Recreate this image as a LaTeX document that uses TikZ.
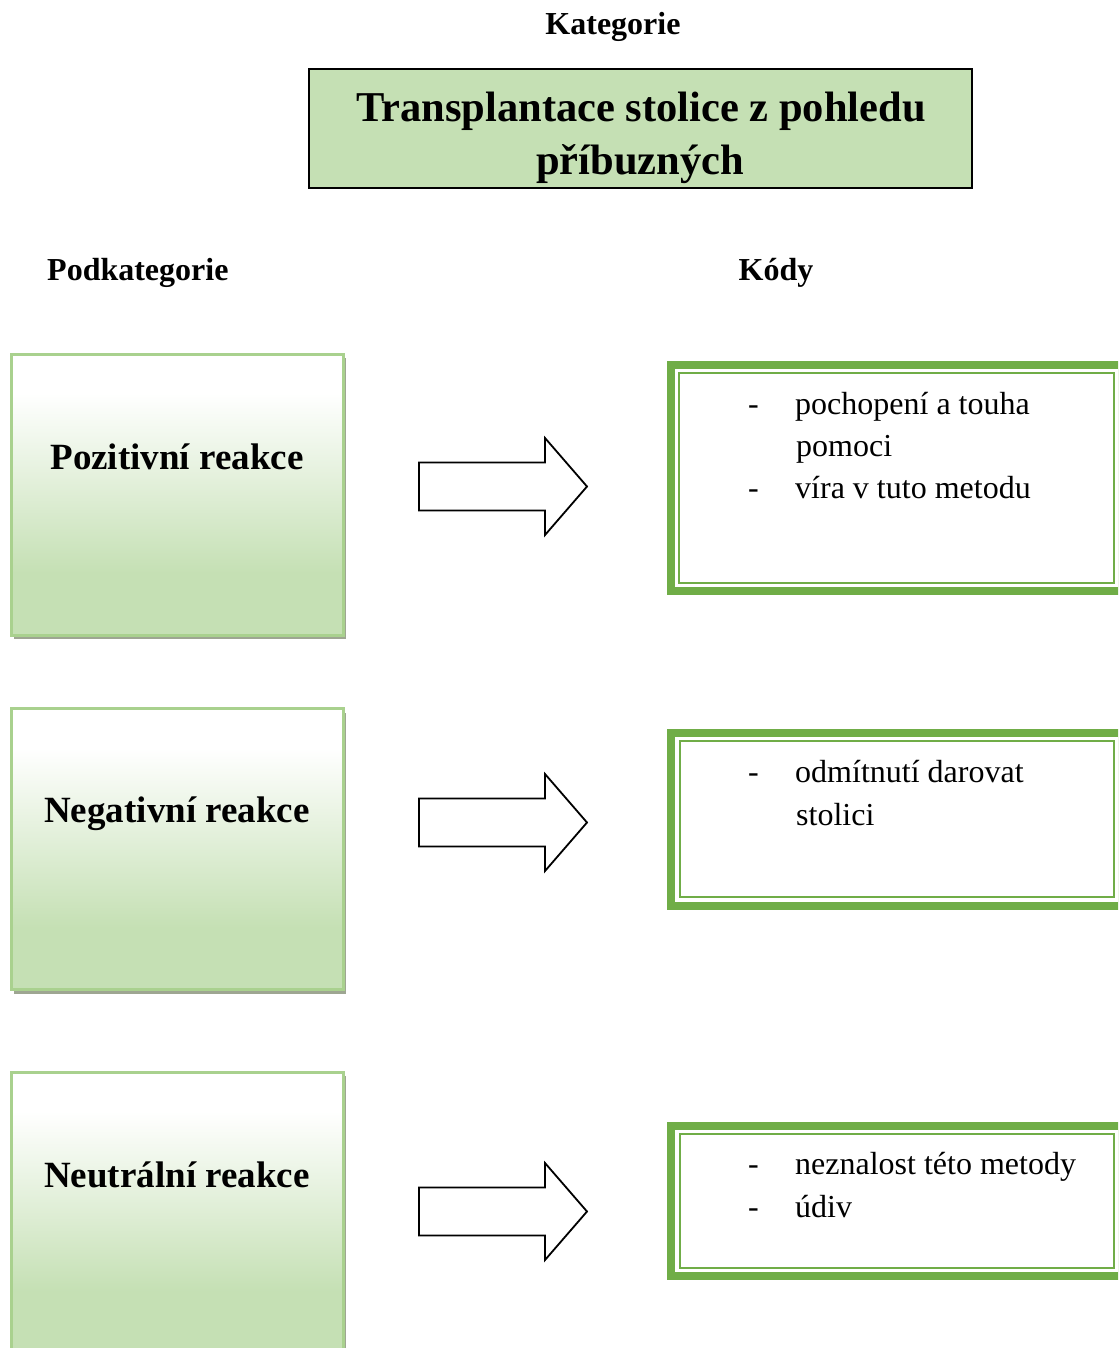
\documentclass[tikz,border=0pt]{standalone}
\usepackage{fontspec}
\setmainfont{Liberation Serif}
\usetikzlibrary{calc,shadows}
\definecolor{titlefill}{RGB}{197,224,180}
\definecolor{lightborder}{RGB}{169,209,142}
\definecolor{codegreen}{RGB}{112,173,71}
\definecolor{shadowc}{RGB}{158,166,146}
\pgfdeclareverticalshading{subshade}{100bp}{color(0bp)=(titlefill); color(36bp)=(titlefill); color(68bp)=(white); color(100bp)=(white)}
\tikzset{
  headtext/.style={font=\fontsize{32}{38}\selectfont\bfseries, inner sep=0, anchor=base},
  titlebox/.style={draw=black, line width=1.8pt, fill=titlefill, inner sep=0, outer sep=0},
  titletext/.style={font=\fontsize{42.5}{53}\selectfont\bfseries, inner sep=0, anchor=base},
  subbox/.style={draw=lightborder, line width=3pt, shading=subshade, inner sep=0, outer sep=0,
     minimum width=332pt, minimum height=281pt,
     drop shadow={shadow xshift=3pt, shadow yshift=-4pt, fill=shadowc, opacity=1}},
  subtext/.style={font=\fontsize{37}{44}\selectfont\bfseries, inner sep=0, anchor=base},
  codebox/.style={draw=codegreen, line width=8pt, fill=white, inner sep=0, outer sep=0, minimum width=451pt},
  innerline/.style={draw=codegreen, line width=2pt},
  codetext/.style={font=\fontsize{32}{40}\selectfont, inner sep=0, anchor=base west},
  blockarrow/.pic={
    \draw[line width=1.8pt, fill=white, line join=miter]
      (-84,-24) -- (42,-24) -- (42,-48.5) -- (84,0) -- (42,48.5) -- (42,24) -- (-84,24) -- cycle;
  }
}
\begin{document}
\begin{tikzpicture}[x=1pt,y=-1pt]
\useasboundingbox (0,0) rectangle (1118,1348);
\clip (0,0) rectangle (1118,1348);

% header
\node[headtext] (kat) at (613,35) {Kategorie};
\node[titlebox, minimum width=663pt, minimum height=119pt] (title) at (640.5,128.5) {};
\node[titletext] (t1) at (641,122) {Transplantace stolice z pohledu};
\node[titletext] (t2) at (640,175) {příbuzných};
\node[headtext, anchor=base west] (podk) at (47,280) {Podkategorie};
\node[headtext] (kody) at (776,280) {Kódy};

% subcategory boxes
\node[subbox] (s1) at (177,494.5) {};
\node[subtext] (s1t) at (177,469.5) {Pozitivní reakce};
\node[subbox] (s2) at (177,849) {};
\node[subtext] (s2t) at (177,822) {Negativní reakce};
\node[subbox] (s3) at (177,1212.5) {};
\node[subtext] (s3t) at (177,1187) {Neutrální reakce};

% arrows
\pic (a1) at (503,486.5) {blockarrow};
\pic (a2) at (503,822.5) {blockarrow};
\pic (a3) at (503,1211.5) {blockarrow};

% code boxes
\node[codebox, minimum height=226.5pt] (k1) at (896.5,477.75) {};
\draw[innerline] ($(k1.north west)+(8,8)$) rectangle ($(k1.south east)+(-8,-8)$);
\node[codetext] (k1d1) at (748,414) {-};
\node[codetext] (k1a) at (795,414) {pochopení a touha};
\node[codetext] (k1b) at (796,456) {pomoci};
\node[codetext] (k1d2) at (748,498) {-};
\node[codetext] (k1c) at (795,498) {víra v tuto metodu};

\node[codebox, minimum height=173pt] (k2) at (896.5,819) {};
\draw[innerline] ($(k2.north west)+(8.5,8.5)$) rectangle ($(k2.south east)+(-8.5,-8.5)$);
\node[codetext] (k2d1) at (748,782) {-};
\node[codetext] (k2a) at (795,782) {odmítnutí darovat};
\node[codetext] (k2b) at (796,825) {stolici};

\node[codebox, minimum height=150.5pt] (k3) at (896.5,1200.75) {};
\draw[innerline] ($(k3.north west)+(8.5,8.5)$) rectangle ($(k3.south east)+(-8.5,-8.5)$);
\node[codetext] (k3d1) at (748,1174) {-};
\node[codetext] (k3a) at (795,1174) {neznalost této metody};
\node[codetext] (k3d2) at (748,1217) {-};
\node[codetext] (k3b) at (795,1217) {údiv};
\end{tikzpicture}
\end{document}
